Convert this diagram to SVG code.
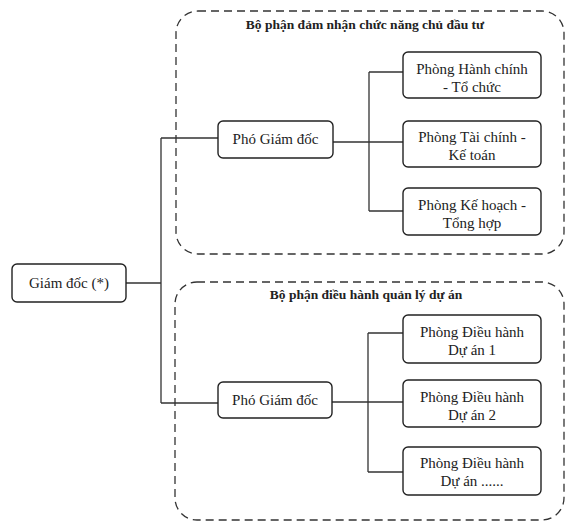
<svg xmlns="http://www.w3.org/2000/svg" width="576" height="528" viewBox="0 0 576 528">
  <style>
    .grp { fill: none; stroke: #333; stroke-width: 1.3; stroke-dasharray: 8 5; }
    .box { fill: #ffffff; stroke: #222; stroke-width: 1.4; }
    .t { font-family: "Liberation Serif", "Times New Roman", serif; font-size: 15px; fill: #222; text-anchor: middle; }
    .title { font-family: "Liberation Serif", "Times New Roman", serif; font-size: 13.5px; font-weight: bold; fill: #222; text-anchor: middle; }
    .ln { fill: none; stroke: #333; stroke-width: 1.3; }
  </style>
  <rect width="576" height="528" fill="#ffffff"/>

  <g id="group-chu-dau-tu">
    <rect class="grp" x="176" y="11" width="388" height="243" rx="22"/>
    <text class="title" x="365" y="29">Bộ phận đảm nhận chức năng chủ đầu tư</text>
  </g>
  <g id="group-dieu-hanh">
    <rect class="grp" x="175" y="282" width="389" height="238" rx="22"/>
    <text class="title" x="366" y="299">Bộ phận điều hành quản lý dự án</text>
  </g>

  <g id="connectors">
    <path class="ln" d="M126 283 H161 M161 138 V403 M161 138 H218 M161 403 H218"/>
    <path class="ln" d="M333 142 H369 M369 72 V211 M369 72 H403 M369 142 H403 M369 211 H403"/>
    <path class="ln" d="M332 402 H368 M368 333 V472 M368 333 H403 M368 402 H403 M368 472 H403"/>
  </g>

  <g id="giam-doc">
    <rect class="box" x="12" y="264" width="114" height="38" rx="5"/>
    <text class="t" x="69" y="288">Giám đốc (*)</text>
  </g>

  <g id="pho-giam-doc-1">
    <rect class="box" x="218" y="121" width="115" height="37" rx="5"/>
    <text class="t" x="275.5" y="144">Phó Giám đốc</text>
  </g>
  <g id="phong-hanh-chinh">
    <rect class="box" x="403" y="52" width="138" height="46" rx="5"/>
    <text class="t" x="472" y="74">Phòng Hành chính</text>
    <text class="t" x="472" y="92">- Tổ chức</text>
  </g>
  <g id="phong-tai-chinh">
    <rect class="box" x="403" y="121" width="138" height="46" rx="5"/>
    <text class="t" x="472" y="142">Phòng Tài chính -</text>
    <text class="t" x="472" y="160">Kế toán</text>
  </g>
  <g id="phong-ke-hoach">
    <rect class="box" x="403" y="188" width="138" height="47" rx="5"/>
    <text class="t" x="472" y="210">Phòng Kế hoạch -</text>
    <text class="t" x="472" y="228">Tổng hợp</text>
  </g>

  <g id="pho-giam-doc-2">
    <rect class="box" x="218" y="382" width="114" height="36" rx="5"/>
    <text class="t" x="275" y="405">Phó Giám đốc</text>
  </g>
  <g id="phong-du-an-1">
    <rect class="box" x="403" y="315" width="138" height="48" rx="5"/>
    <text class="t" x="472" y="337">Phòng Điều hành</text>
    <text class="t" x="472" y="355">Dự án 1</text>
  </g>
  <g id="phong-du-an-2">
    <rect class="box" x="403" y="380" width="138" height="47" rx="5"/>
    <text class="t" x="472" y="402">Phòng Điều hành</text>
    <text class="t" x="472" y="420">Dự án 2</text>
  </g>
  <g id="phong-du-an-n">
    <rect class="box" x="403" y="447" width="138" height="48" rx="5"/>
    <text class="t" x="472" y="468">Phòng Điều hành</text>
    <text class="t" x="472" y="486">Dự án ......</text>
  </g>
</svg>
